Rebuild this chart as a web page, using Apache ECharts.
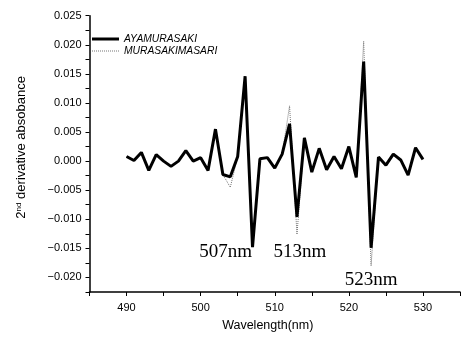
<!DOCTYPE html>
<html>
<head>
<meta charset="utf-8">
<script src="https://cdn.jsdelivr.net/npm/echarts@6/dist/echarts.min.js"></script>
<style>
html,body{margin:0;padding:0;background:#fff;}
#c{width:463px;height:337px;}
</style>
</head>
<body>
<div id="c"></div>
<script>
var wavelengths = [490,491,492,493,494,495,496,497,498,499,500,501,502,503,504,505,506,507,508,509,510,511,512,513,514,515,516,517,518,519,520,521,522,523,524,525,526,527,528,529,530];
var ayamurasaki = [0.0008,0.0001,0.0015,-0.0016,0.0011,0.0000,-0.0009,0.0000,0.0018,0.0000,0.0006,-0.0016,0.0055,-0.0023,-0.0027,0.0008,0.0146,-0.0148,0.0004,0.0006,-0.0012,0.0012,0.0064,-0.0096,0.0040,-0.0019,0.0022,-0.0015,0.0008,-0.0013,0.0025,-0.0028,0.0171,-0.0149,0.0007,-0.0007,0.0012,0.0002,-0.0024,0.0023,0.0003];
var murasakimasari = [0.0008,0.0001,0.0015,-0.0016,0.0011,0.0000,-0.0009,0.0000,0.0018,0.0000,0.0006,-0.0016,0.0055,-0.0023,-0.0045,0.0008,0.0146,-0.0148,0.0004,0.0006,-0.0012,0.0012,0.0095,-0.0126,0.0040,-0.0019,0.0022,-0.0015,0.0008,-0.0013,0.0025,-0.0028,0.0206,-0.0180,0.0007,-0.0007,0.0012,0.0002,-0.0024,0.0023,0.0003];
var annotations = [507, 513, 523];
var annotationOffsets = [[-27, 5], [3, 35], [0, 32]];

function pairs(vals){ return wavelengths.map(function(w,i){ return [w, vals[i]]; }); }

var chart = echarts.init(document.getElementById('c'), null, {renderer:'canvas'});
var sans = '"Liberation Sans", Arial, sans-serif';
var markData = annotations.map(function(w, k){
  var i = wavelengths.indexOf(w);
  return {
    coord: [w, ayamurasaki[i]],
    label: {show:true, formatter: w + 'nm', offset: annotationOffsets[k]}
  };
});

// legend icons: solid thick bar, and a dotted thin bar
var solidIcon = 'path://M0,0h27v3h-27z';
var dotParts = [];
for (var d = 0; d < 27; d += 2) { dotParts.push('M' + d + ',0h1v1h-1z'); }
var dottedIcon = 'path://' + dotParts.join(' ');

chart.setOption({
  animation: false,
  backgroundColor: '#fff',
  grid: {left: 89.5, top: 15.7, width: 376, height: 279.7, containLabel: false},
  legend: {
    orient: 'vertical', left: 92, top: 34, padding: 0,
    itemWidth: 27, itemGap: 2,
    textStyle: {fontFamily: sans, fontSize: 10.3, fontStyle: 'italic', color: '#000'},
    data: [
      {name: 'AYAMURASAKI', icon: solidIcon, itemHeight: 3},
      {name: 'MURASAKIMASARI', icon: dottedIcon}
    ],
    itemHeight: 10
  },
  xAxis: {
    type: 'value', min: 485, max: 535, interval: 5,
    name: 'Wavelength(nm)', nameLocation: 'middle', nameGap: 27,
    nameTextStyle: {fontFamily: sans, fontSize: 12.5, color: '#000', padding: [0, 14, 0, 0]},
    axisLine: {show: true, onZero: false, lineStyle: {color: '#000', width: 1.5}},
    axisTick: {show: true, inside: false, length: 4, lineStyle: {color: '#000', width: 1}},
    axisLabel: {fontFamily: sans, fontSize: 11, color: '#000', margin: 10,
      formatter: function(v){ return (v % 10 === 0) ? String(v) : ''; }},
    splitLine: {show: false}
  },
  yAxis: {
    type: 'value', min: -0.0225, max: 0.025, interval: 0.0025,
    name: '2{sup|nd} derivative absobance', nameLocation: 'middle', nameGap: 61, nameRotate: 90,
    nameTextStyle: {fontFamily: sans, fontSize: 13, color: '#000', padding: [0, 0, 0, 13],
      rich: {sup: {fontFamily: sans, fontSize: 8, verticalAlign: 'top', color: '#000', padding: [0,0,6,0]}}},
    axisLine: {show: true, onZero: false, lineStyle: {color: '#000', width: 1.5}},
    axisTick: {show: true, inside: false, length: 4, lineStyle: {color: '#000', width: 1}},
    axisLabel: {fontFamily: sans, fontSize: 11, color: '#000', margin: 8,
      formatter: function(v){
        var r = Math.round(v * 10000);
        if (r % 50 !== 0) return '';
        return v.toFixed(3).replace('-', '\u2212');
      }},
    splitLine: {show: false}
  },
  series: [
    {
      name: 'MURASAKIMASARI', type: 'line', data: pairs(murasakimasari),
      symbol: 'none', z: 1,
      lineStyle: {color: '#777', width: 1, type: [1, 1]},
      itemStyle: {color: '#777'}
    },
    {
      name: 'AYAMURASAKI', type: 'line', data: pairs(ayamurasaki),
      symbol: 'none', z: 2,
      lineStyle: {color: '#000', width: 3},
      itemStyle: {color: '#000'},
      markPoint: {
        symbol: 'circle', symbolSize: 1,
        itemStyle: {color: 'rgba(0,0,0,0)'},
        label: {position: 'inside', fontFamily: '"Liberation Serif", "Times New Roman", serif', fontSize: 19, color: '#000'},
        data: markData
      }
    }
  ]
});
</script>
</body>
</html>
